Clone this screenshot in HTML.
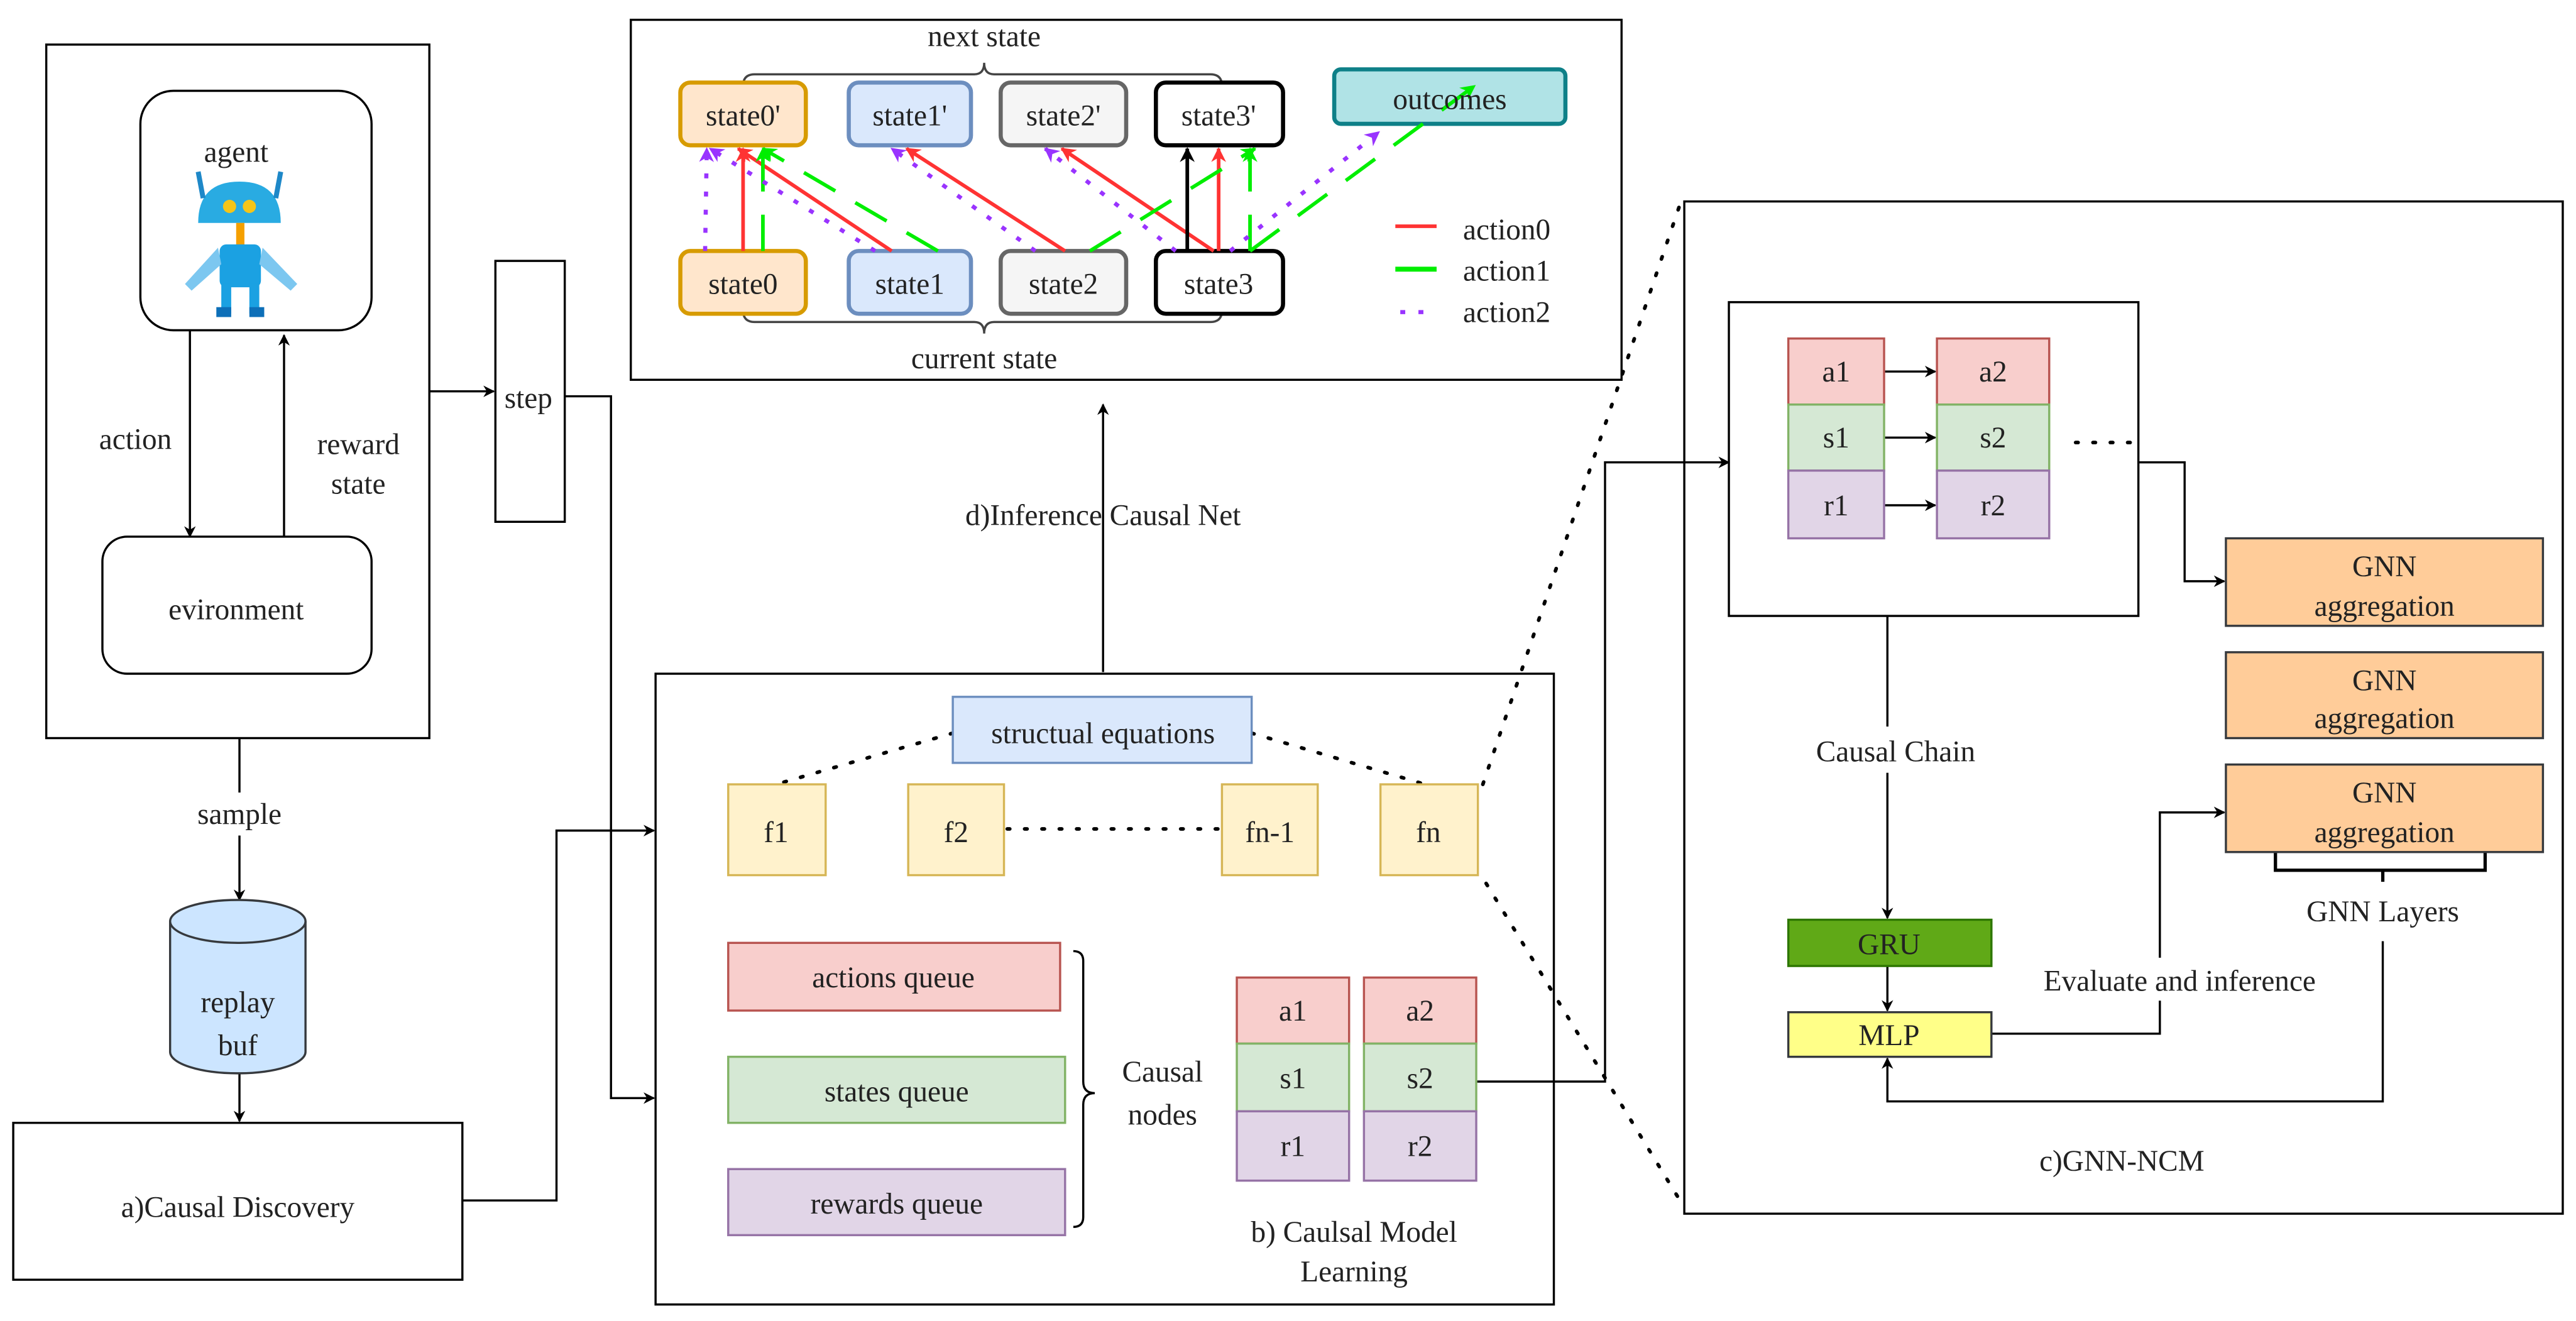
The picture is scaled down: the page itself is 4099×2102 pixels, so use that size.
<!DOCTYPE html>
<html><head><meta charset="utf-8"><style>
html,body{margin:0;padding:0;background:#fff;}
svg{display:block;}
text{font-family:"Liberation Serif",serif;fill:#222;}
</style></head><body>
<svg width="4099" height="2102" viewBox="0 0 1560 800" xmlns="http://www.w3.org/2000/svg">
<defs>
<marker id="ak" viewBox="0 0 10 10" refX="9" refY="5" markerWidth="7" markerHeight="7" orient="auto-start-reverse" markerUnits="userSpaceOnUse"><path d="M0,0 L10,5 L0,10 L3,5 z" fill="#000"/></marker>
<marker id="ar" viewBox="0 0 10 10" refX="9" refY="5" markerWidth="9" markerHeight="9" orient="auto" markerUnits="userSpaceOnUse"><path d="M0,0 L10,5 L0,10 L3,5 z" fill="#ff3333"/></marker>
<marker id="ag" viewBox="0 0 10 10" refX="9" refY="5" markerWidth="9" markerHeight="9" orient="auto" markerUnits="userSpaceOnUse"><path d="M0,0 L10,5 L0,10 L3,5 z" fill="#00ee00"/></marker>
<marker id="ap" viewBox="0 0 10 10" refX="9" refY="5" markerWidth="9" markerHeight="9" orient="auto" markerUnits="userSpaceOnUse"><path d="M0,0 L10,5 L0,10 L3,5 z" fill="#9933ff"/></marker>
<marker id="ab" viewBox="0 0 10 10" refX="9" refY="5" markerWidth="9" markerHeight="9" orient="auto" markerUnits="userSpaceOnUse"><path d="M0,0 L10,5 L0,10 L3,5 z" fill="#000"/></marker>
</defs>
<g fill="none" stroke="#000" stroke-width="1.3">
<rect x="28" y="27" width="232" height="420"/>
<rect x="85" y="55" width="140" height="145" rx="20"/>
<line x1="115" y1="200" x2="115" y2="325" marker-end="url(#ak)"/>
<line x1="172" y1="325" x2="172" y2="203" marker-end="url(#ak)"/>
<rect x="62" y="325" width="163" height="83" rx="15"/>
<line x1="145" y1="447" x2="145" y2="480"/>
<line x1="145" y1="506" x2="145" y2="545" marker-end="url(#ak)"/>
<line x1="145" y1="650" x2="145" y2="679" marker-end="url(#ak)"/>
<rect x="8" y="680" width="272" height="95"/>
<polyline points="280,727 337,727 337,503 396,503" marker-end="url(#ak)"/>
<rect x="300" y="158" width="42" height="158"/>
<line x1="260" y1="237" x2="299" y2="237" marker-end="url(#ak)"/>
<polyline points="342,240 370,240 370,665 396,665" marker-end="url(#ak)"/>
<rect x="382" y="12" width="600" height="218"/>
<path d="M450,52 Q450,45 457,45 L590,45 Q596,45 596,38 Q596,45 602,45 L733,45 Q740,45 740,52" stroke="#444"/>
<path d="M450,188 Q450,195 457,195 L590,195 Q596,195 596,202 Q596,195 602,195 L733,195 Q740,195 740,188" stroke="#444"/>
<line x1="668" y1="407" x2="668" y2="245" marker-end="url(#ak)"/>
<rect x="397" y="408" width="544" height="382"/>
<path d="M650,576 Q656,576 656,582 L656,655 Q656,662 663,662 Q656,662 656,669 L656,737 Q656,743 650,743"/>
<polyline points="894,655 972,655 972,280 1047,280" marker-end="url(#ak)"/>
<rect x="1020" y="122" width="532" height="613"/>
<rect x="1047" y="183" width="248" height="190"/>
<line x1="1141" y1="225" x2="1172" y2="225" marker-end="url(#ak)"/>
<line x1="1141" y1="265" x2="1172" y2="265" marker-end="url(#ak)"/>
<line x1="1141" y1="306" x2="1172" y2="306" marker-end="url(#ak)"/>
<polyline points="1295,280 1323,280 1323,352 1347,352" marker-end="url(#ak)"/>
<line x1="1143" y1="373" x2="1143" y2="556" marker-end="url(#ak)"/>
<line x1="1143" y1="585" x2="1143" y2="612" marker-end="url(#ak)"/>
<polyline points="1206,626 1308,626 1308,492 1347,492" marker-end="url(#ak)"/>
<polyline points="1443,570 1443,667 1143,667 1143,641" marker-end="url(#ak)"/>
<path d="M1378,516 L1378,527 L1505,527 L1505,516 M1443,527 L1443,534" stroke-width="2"/>
</g>
<g fill="none" stroke="#000" stroke-width="2.2" stroke-dasharray="1.5 9" stroke-linecap="round">
<line x1="577" y1="444" x2="470" y2="475"/>
<line x1="758" y1="444" x2="863" y2="475"/>
<line x1="610" y1="502" x2="740" y2="502"/>
<line x1="898" y1="475" x2="1018" y2="122"/>
<line x1="900" y1="535" x2="1018" y2="728"/>
<line x1="1257" y1="268" x2="1290" y2="268"/>
</g>
<g>
<path d="M120,135 Q120,110 145,110 Q170,110 170,135 Z" fill="#29abe2"/>
<line x1="123" y1="120" x2="120" y2="104" stroke="#1e88c8" stroke-width="3"/>
<line x1="167" y1="120" x2="170" y2="104" stroke="#1e88c8" stroke-width="3"/>
<circle cx="139" cy="125" r="4" fill="#f5c518"/><circle cx="151" cy="125" r="4" fill="#f5c518"/>
<rect x="143" y="135" width="5" height="14" fill="#f5a000"/>
<rect x="133" y="148" width="25" height="26" rx="4" fill="#1ba1e2"/>
<path d="M132,150 L112,172 L116,176 L134,160 Z" fill="#7cc7f0"/>
<path d="M159,150 L180,172 L176,176 L157,160 Z" fill="#7cc7f0"/>
<rect x="134" y="172" width="6" height="18" fill="#1ba1e2"/><rect x="151" y="172" width="6" height="18" fill="#1ba1e2"/>
<rect x="131" y="186" width="9" height="6" fill="#0d6fb8"/><rect x="151" y="186" width="9" height="6" fill="#0d6fb8"/>
</g>
<path d="M103,558 L103,637 A41,13 0 0 0 185,637 L185,558" fill="#cce5ff" stroke="#36393d" stroke-width="1.3"/>
<ellipse cx="144" cy="558" rx="41" ry="13" fill="#cce5ff" stroke="#36393d" stroke-width="1.3"/>
<g stroke-width="2.5">
<rect x="412" y="50" width="76" height="38" rx="6" fill="#ffe6cc" stroke="#d79b00"/>
<rect x="514" y="50" width="74" height="38" rx="6" fill="#dae8fc" stroke="#6c8ebf"/>
<rect x="606" y="50" width="76" height="38" rx="6" fill="#f5f5f5" stroke="#666"/>
<rect x="700" y="50" width="77" height="38" rx="6" fill="#fff" stroke="#000"/>
<rect x="808" y="42" width="140" height="33" rx="4" fill="#b0e3e6" stroke="#0e8088"/>
<rect x="412" y="152" width="76" height="38" rx="6" fill="#ffe6cc" stroke="#d79b00"/>
<rect x="514" y="152" width="74" height="38" rx="6" fill="#dae8fc" stroke="#6c8ebf"/>
<rect x="606" y="152" width="76" height="38" rx="6" fill="#f5f5f5" stroke="#666"/>
<rect x="700" y="152" width="77" height="38" rx="6" fill="#fff" stroke="#000"/>
</g>
<g fill="none" stroke-width="2.2">
<g stroke="#ff3333" marker-end="url(#ar)">
<line x1="450" y1="152" x2="450" y2="90"/>
<line x1="540" y1="152" x2="447" y2="90"/>
<line x1="645" y1="152" x2="549" y2="90"/>
<line x1="735" y1="152" x2="643" y2="90"/>
<line x1="738" y1="152" x2="738" y2="90"/>
</g>
<line x1="719" y1="152" x2="719" y2="90" stroke="#000" marker-end="url(#ab)"/>
<g stroke="#00ee00" stroke-dasharray="22 14" marker-end="url(#ag)">
<line x1="462" y1="152" x2="462" y2="90"/>
<line x1="568" y1="152" x2="462" y2="90"/>
<line x1="660" y1="152" x2="760" y2="90"/>
<line x1="757" y1="152" x2="757" y2="90"/>
<line x1="757" y1="152" x2="893" y2="52"/>
</g>
<g stroke="#9933ff" stroke-dasharray="3 8" stroke-width="2.5" marker-end="url(#ap)">
<line x1="427" y1="152" x2="428" y2="90"/>
<line x1="530" y1="152" x2="430" y2="90"/>
<line x1="627" y1="152" x2="540" y2="90"/>
<line x1="712" y1="152" x2="633" y2="90"/>
<line x1="745" y1="152" x2="835" y2="80"/>
</g>
<line x1="845" y1="137" x2="870" y2="137" stroke="#ff3333"/>
<line x1="845" y1="163" x2="870" y2="163" stroke="#00ee00" stroke-width="3"/>
<line x1="848" y1="189" x2="870" y2="189" stroke="#9933ff" stroke-dasharray="3 8" stroke-width="2.5"/>
</g>
<g stroke-width="1.3">
<rect x="577" y="422" width="181" height="40" fill="#dae8fc" stroke="#6c8ebf"/>
<rect x="441" y="475" width="59" height="55" fill="#fff2cc" stroke="#d6b656"/>
<rect x="550" y="475" width="58" height="55" fill="#fff2cc" stroke="#d6b656"/>
<rect x="740" y="475" width="58" height="55" fill="#fff2cc" stroke="#d6b656"/>
<rect x="836" y="475" width="59" height="55" fill="#fff2cc" stroke="#d6b656"/>
<rect x="441" y="571" width="201" height="41" fill="#f8cecc" stroke="#b85450"/>
<rect x="441" y="640" width="204" height="40" fill="#d5e8d4" stroke="#82b366"/>
<rect x="441" y="708" width="204" height="40" fill="#e1d5e7" stroke="#9673a6"/>
<rect x="749" y="592" width="68" height="40" fill="#f8cecc" stroke="#b85450"/>
<rect x="826" y="592" width="68" height="40" fill="#f8cecc" stroke="#b85450"/>
<rect x="749" y="632" width="68" height="41" fill="#d5e8d4" stroke="#82b366"/>
<rect x="826" y="632" width="68" height="41" fill="#d5e8d4" stroke="#82b366"/>
<rect x="749" y="673" width="68" height="42" fill="#e1d5e7" stroke="#9673a6"/>
<rect x="826" y="673" width="68" height="42" fill="#e1d5e7" stroke="#9673a6"/>
<rect x="1083" y="205" width="58" height="40" fill="#f8cecc" stroke="#b85450"/>
<rect x="1173" y="205" width="68" height="40" fill="#f8cecc" stroke="#b85450"/>
<rect x="1083" y="245" width="58" height="40" fill="#d5e8d4" stroke="#82b366"/>
<rect x="1173" y="245" width="68" height="40" fill="#d5e8d4" stroke="#82b366"/>
<rect x="1083" y="285" width="58" height="41" fill="#e1d5e7" stroke="#9673a6"/>
<rect x="1173" y="285" width="68" height="41" fill="#e1d5e7" stroke="#9673a6"/>
<rect x="1348" y="326" width="192" height="53" fill="#ffcc99" stroke="#36393d"/>
<rect x="1348" y="395" width="192" height="52" fill="#ffcc99" stroke="#36393d"/>
<rect x="1348" y="463" width="192" height="53" fill="#ffcc99" stroke="#36393d"/>
<rect x="1083" y="557" width="123" height="28" fill="#60a917" stroke="#2d7600"/>
<rect x="1083" y="613" width="123" height="27" fill="#ffff88" stroke="#36393d"/>
</g>
<rect x="1085" y="440" width="126" height="28" fill="#fff"/>
<rect x="1216" y="580" width="210" height="26" fill="#fff"/>
<rect x="110" y="480" width="70" height="26" fill="#fff"/>
<g font-size="18" text-anchor="middle">
<text x="143" y="98">agent</text>
<text x="82" y="272">action</text>
<text x="217" y="275">reward</text>
<text x="217" y="299">state</text>
<text x="143" y="375">evironment</text>
<text x="145" y="499">sample</text>
<text x="144" y="613">replay</text>
<text x="144" y="639">buf</text>
<text x="144" y="737">a)Causal Discovery</text>
<text x="320" y="247">step</text>
<text x="596" y="28">next state</text>
<text x="596" y="223">current state</text>
<text x="450" y="76">state0'</text>
<text x="551" y="76">state1'</text>
<text x="644" y="76" fill="#555">state2'</text>
<text x="738" y="76">state3'</text>
<text x="878" y="66">outcomes</text>
<text x="450" y="178">state0</text>
<text x="551" y="178">state1</text>
<text x="644" y="178" fill="#555">state2</text>
<text x="738" y="178">state3</text>
<text x="668" y="318">d)Inference Causal Net</text>
<text x="668" y="450">structual equations</text>
<text x="470" y="510">f1</text>
<text x="579" y="510">f2</text>
<text x="769" y="510">fn-1</text>
<text x="865" y="510">fn</text>
<text x="541" y="598">actions queue</text>
<text x="543" y="667">states queue</text>
<text x="543" y="735">rewards queue</text>
<text x="704" y="655">Causal</text>
<text x="704" y="681">nodes</text>
<text x="783" y="618">a1</text><text x="860" y="618">a2</text>
<text x="783" y="659">s1</text><text x="860" y="659">s2</text>
<text x="783" y="700">r1</text><text x="860" y="700">r2</text>
<text x="820" y="752">b) Caulsal Model</text>
<text x="820" y="776">Learning</text>
<text x="1112" y="231">a1</text><text x="1207" y="231">a2</text>
<text x="1112" y="271">s1</text><text x="1207" y="271">s2</text>
<text x="1112" y="312">r1</text><text x="1207" y="312">r2</text>
<text x="1444" y="349">GNN</text><text x="1444" y="373">aggregation</text>
<text x="1444" y="418">GNN</text><text x="1444" y="441">aggregation</text>
<text x="1444" y="486">GNN</text><text x="1444" y="510">aggregation</text>
<text x="1443" y="558">GNN Layers</text>
<text x="1148" y="461">Causal Chain</text>
<text x="1144" y="578" fill="#fff">GRU</text>
<text x="1144" y="633">MLP</text>
<text x="1320" y="600">Evaluate and inference</text>
<text x="1285" y="709">c)GNN-NCM</text>
</g>
<g font-size="18">
<text x="886" y="145">action0</text>
<text x="886" y="170">action1</text>
<text x="886" y="195">action2</text>
</g>
</svg>
</body></html>
